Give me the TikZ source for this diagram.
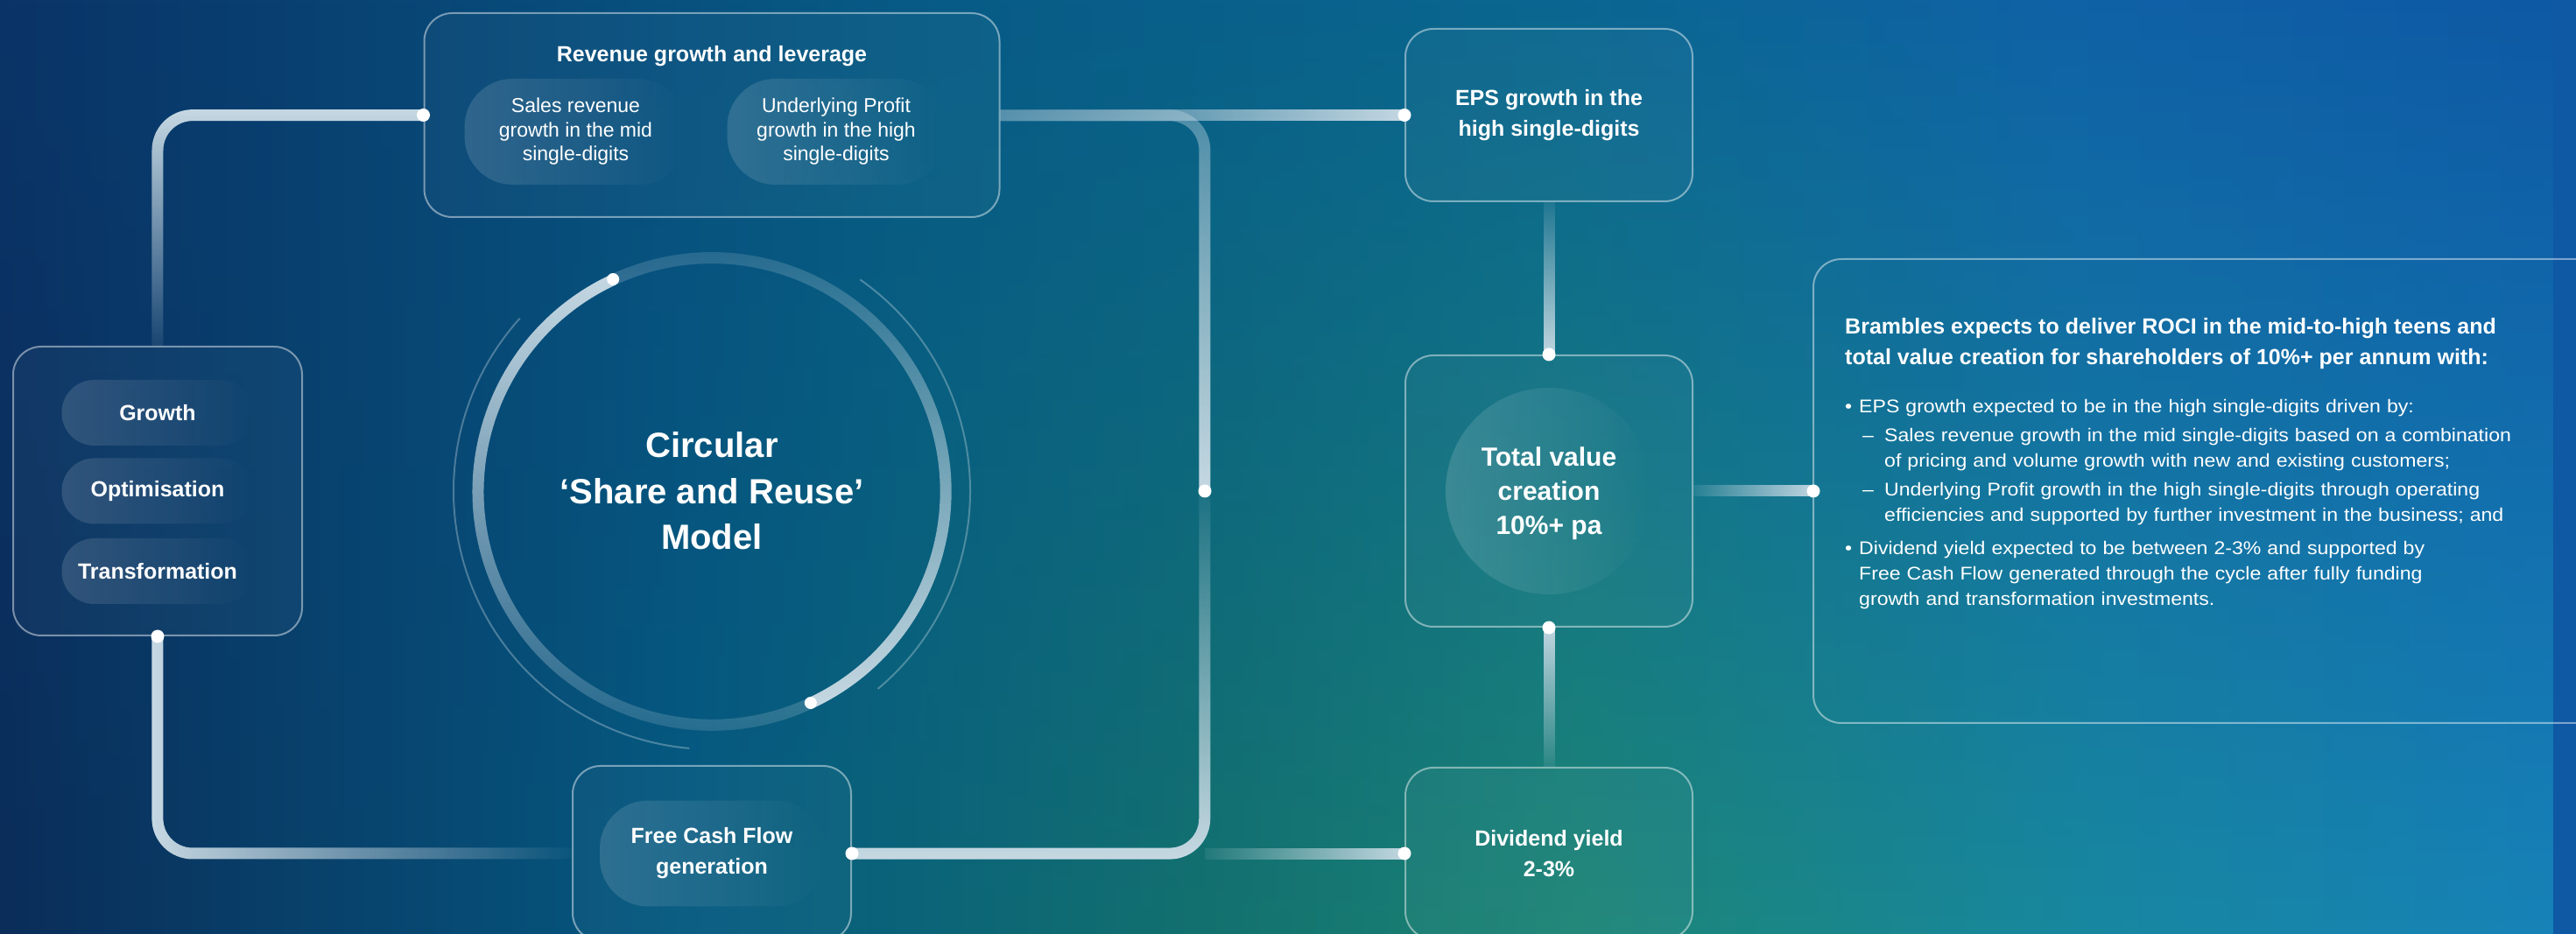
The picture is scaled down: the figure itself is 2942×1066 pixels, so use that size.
\documentclass[tikz,border=0pt]{standalone}
\usepackage{fontspec}
\setmainfont{Liberation Sans}
\newfontfamily\widefamily[FakeStretch=1.1]{Liberation Sans}
\usetikzlibrary{positioning, fadings}
\setlength{\parindent}{0pt}

% Colours
\definecolor{bgnavy}{HTML}{0A3468}
\definecolor{bgteal}{HTML}{075A86}
\definecolor{bgsea}{HTML}{0A6690}
\definecolor{bgblue}{HTML}{0F62A6}
\definecolor{bgdeep}{HTML}{0E58A4}
\definecolor{lownavy}{HTML}{0A2C58}
\definecolor{lowteal}{HTML}{055A80}
\definecolor{lowsea}{HTML}{13716E}
\definecolor{lowgreen}{HTML}{1D8676}
\definecolor{lowcyan}{HTML}{1888A0}
\definecolor{lowblue}{HTML}{1783B8}
\definecolor{linkc}{HTML}{C8DAE4}

\pgfdeclarehorizontalshading{skytop}{100bp}{color(0bp)=(bgnavy); color(25bp)=(bgnavy); color(42.5bp)=(bgteal); color(55bp)=(bgsea); color(65bp)=(bgblue); color(75bp)=(bgdeep); color(100bp)=(bgdeep)}
\pgfdeclarehorizontalshading{skylow}{100bp}{color(0bp)=(lownavy); color(25bp)=(lownavy); color(38.5bp)=(lowteal); color(48.5bp)=(lowsea); color(56bp)=(lowgreen); color(66bp)=(lowcyan); color(75bp)=(lowblue); color(100bp)=(lowblue)}

% Fadings: name, top/left, middle, bottom/right transparency
\newcommand{\vfade}[4]{%
	\begin{tikzfadingfrompicture}[name=#1]
		\fill[transparent!#2] (-50bp,25bp) rectangle (50bp,50bp);
		\shade[top color=transparent!#2, middle color=transparent!#3, bottom color=transparent!#4] (-50bp,-25.5bp) rectangle (50bp,25.5bp);
		\fill[transparent!#4] (-50bp,-50bp) rectangle (50bp,-25bp);
	\end{tikzfadingfrompicture}}
\newcommand{\hfade}[4]{%
	\begin{tikzfadingfrompicture}[name=#1]
		\fill[transparent!#2] (-50bp,-50bp) rectangle (-25bp,50bp);
		\shade[left color=transparent!#2, middle color=transparent!#3, right color=transparent!#4] (-25.5bp,-50bp) rectangle (25.5bp,50bp);
		\fill[transparent!#4] (25bp,-50bp) rectangle (50bp,50bp);
	\end{tikzfadingfrompicture}}

\vfade{fadebg}{100}{55}{0}
\vfade{fadeN}{95}{50}{0}
\vfade{fadeS}{0}{45}{95}
\vfade{fadeHalf}{65}{30}{0}
\vfade{fadeRingA}{0}{15}{90}
\vfade{fadeRingB}{90}{15}{0}
\hfade{fadeE}{0}{50}{100}
\hfade{fadeW}{95}{45}{0}

% Fonts
\newcommand{\tagfont}{\fontsize{25}{35}\selectfont\bfseries}
\newcommand{\pillfont}{\fontsize{23}{27.5}\selectfont}
\newcommand{\modelfont}{\fontsize{40}{52.5}\selectfont\bfseries}
\newcommand{\corefont}{\fontsize{30}{39}\selectfont\bfseries}
\newcommand{\outfont}{\widefamily\fontsize{21}{29}\selectfont}

\begin{document}
\begin{tikzpicture}[x=1pt, y=1pt, on grid,
	box/.style={draw=white, draw opacity=0.45, line width=2pt, rounded corners=32pt,
		fill=white, fill opacity=0.03, text opacity=1},
	frame/.style={draw=white, draw opacity=0.45, line width=2pt, rounded corners=32pt},
	pill/.style={rounded corners=#1, text=white, align=center, inner sep=0pt,
		path picture={\fill[white, fill opacity=0.14, path fading=fadeE]
			(path picture bounding box.south west) rectangle (path picture bounding box.north east);}},
	pill/.default=37pt,
	core/.style={circle, minimum size=236pt, text=white, align=center, font=\corefont,
		path picture={\fill[white, fill opacity=0.15, path fading=fadeE]
			(path picture bounding box.south west) rectangle (path picture bounding box.north east);}},
	tag/.style={text=white, align=center, font=\tagfont},
	link/.style={draw=linkc, line width=13pt},
	ring/.style={draw=linkc, line width=13pt},
	halo/.style={draw=white, draw opacity=0.28, line width=2pt}
]

% Background
	\useasboundingbox (0,0) rectangle (2942,1066);
	\clip (0,0) rectangle (2942,1066);
	\shade[shading=skytop] (0,0) rectangle (2942,1066);
	\shade[shading=skylow, path fading=fadebg] (0,0) rectangle (2942,1066);

% Model in the middle
	\node (model)	[tag, font=\modelfont]	at (813,505)	{Circular\\‘Share and Reuse’\\Model};
	\coordinate [right=563pt of model] (hub);

% Boxes
	\node (revenue)	[box, minimum width=657pt, minimum height=233pt, above=429.5pt of model]	{};
	\node (strat)	[box, minimum width=330pt, minimum height=330pt, left=633pt of model]	{};
	\node (fcf)		[box, minimum width=318pt, minimum height=200pt, below=414pt of model]	{};
	\node (total)	[box, minimum width=328pt, minimum height=310pt, right=956pt of model]	{};
	\node (eps)		[box, tag, minimum width=328pt, minimum height=197pt, above=429.5pt of total]	{EPS growth in the\\high single-digits};
	\node (div)		[box, tag, minimum width=328pt, minimum height=196pt, below=414pt of total]	{Dividend yield\\2-3\%};
	\node (outlook)	[minimum width=871pt, minimum height=530pt, outer sep=0pt, right=737.5pt of total]	{};
	\draw[frame] (outlook.north east) -| (outlook.south west) -- (outlook.south east);
	\coordinate (hubfoot) at (hub |- fcf);

% Inner pills
	\node (revtitle)	[tag, below=50pt of revenue.north, anchor=center]	{Revenue growth and leverage};
	\node (sales)	[pill=55pt, minimum width=254pt, minimum height=121pt, font=\pillfont, below left=19pt and 155.5pt of revenue]	{Sales revenue\\growth in the mid\\single-digits};
	\node (profit)	[pill=55pt, minimum width=249pt, minimum height=121pt, font=\pillfont, below right=19pt and 142pt of revenue]	{Underlying Profit\\growth in the high\\single-digits};

	\node (growth)	[pill, minimum width=219pt, minimum height=75pt, font=\tagfont, above=89.5pt of strat]	{Growth};
	\node (optim)	[pill, minimum width=219pt, minimum height=75pt, font=\tagfont] at (strat)	{Optimisation};
	\node (transf)	[pill, minimum width=219pt, minimum height=75pt, font=\tagfont, below=91.5pt of strat]	{Transformation};

	\node (fcfpill)	[pill=55pt, minimum width=256pt, minimum height=121pt, font=\tagfont] at (fcf)	{Free Cash Flow\\generation};
	\node (core)	[core, text depth=0pt] at (total)	{Total value\\creation\\10\%+ pa};

% Outlook text
	\node (outtext)	[text=white, font=\outfont, text width=790pt, align=left, inner sep=0pt, anchor=north west]
		at ([shift={(36pt,-67pt)}]outlook.north west) {%
		{\rmfamily\tagfont Brambles expects to deliver ROCI in the mid-to-high teens and\\total value creation for shareholders of 10\%+ per annum with:\par}
		\vspace{26pt}
		\makebox[16pt][l]{\textbullet}EPS growth expected to be in the high single-digits driven by:\\[4pt]
		\hspace*{20pt}\makebox[25pt][l]{–}Sales revenue growth in the mid single-digits based on a combination\\
		\hspace*{45pt}of pricing and volume growth with new and existing customers;\\[4pt]
		\hspace*{20pt}\makebox[25pt][l]{–}Underlying Profit growth in the high single-digits through operating\\
		\hspace*{45pt}efficiencies and supported by further investment in the business; and\\[9pt]
		\makebox[16pt][l]{\textbullet}Dividend yield expected to be between 2-3\% and supported by\\
		\hspace*{16pt}Free Cash Flow generated through the cycle after fully funding\\
		\hspace*{16pt}growth and transformation investments.};

% Connectors
	\draw[link, rounded corners=40pt, path fading=fadeS] (strat.north) |- (revenue.west);
	\draw[link, rounded corners=40pt, path fading=fadeE] (strat.south) |- (fcf.west);
	\draw[link, path fading=fadeW] (revenue.east) -- (eps.west);
	\draw[link, rounded corners=40pt, path fading=fadeHalf] (revenue.east) -| (hub);
	\draw[link, rounded corners=40pt, path fading=fadeN] (fcf.east) -| (hub);
	\draw[link, path fading=fadeW] (hubfoot) -- (div.west);
	\draw[link, path fading=fadeN] (eps.south) -- (total.north);
	\draw[link, path fading=fadeS] (total.south) -- (div.north);
	\draw[link, path fading=fadeW] (total.east) -- (outlook.west);

% Ring round the model
	\draw[ring, path fading=fadeRingA] ([shift={(115:267pt)}]model.center) arc[start angle=115, end angle=295, radius=267pt];
	\draw[ring, path fading=fadeRingB] ([shift={(295:267pt)}]model.center) arc[start angle=295, end angle=475, radius=267pt];
	\draw[halo] ([shift={(138:295pt)}]model.center) arc[start angle=138, end angle=265, radius=295pt];
	\draw[halo] ([shift={(-50:295pt)}]model.center) arc[start angle=-50, end angle=55, radius=295pt];

% Dots
	\fill[white] (revenue.west) circle (7.5pt) (strat.south) circle (7.5pt) (fcf.east) circle (7.5pt)
		(hub) circle (7.5pt) (eps.west) circle (7.5pt) (total.north) circle (7.5pt)
		(total.south) circle (7.5pt) (div.west) circle (7.5pt) (outlook.west) circle (7.5pt)
		([shift={(115:267pt)}]model.center) circle (7pt) ([shift={(295:267pt)}]model.center) circle (7pt);

\end{tikzpicture}
\end{document}
